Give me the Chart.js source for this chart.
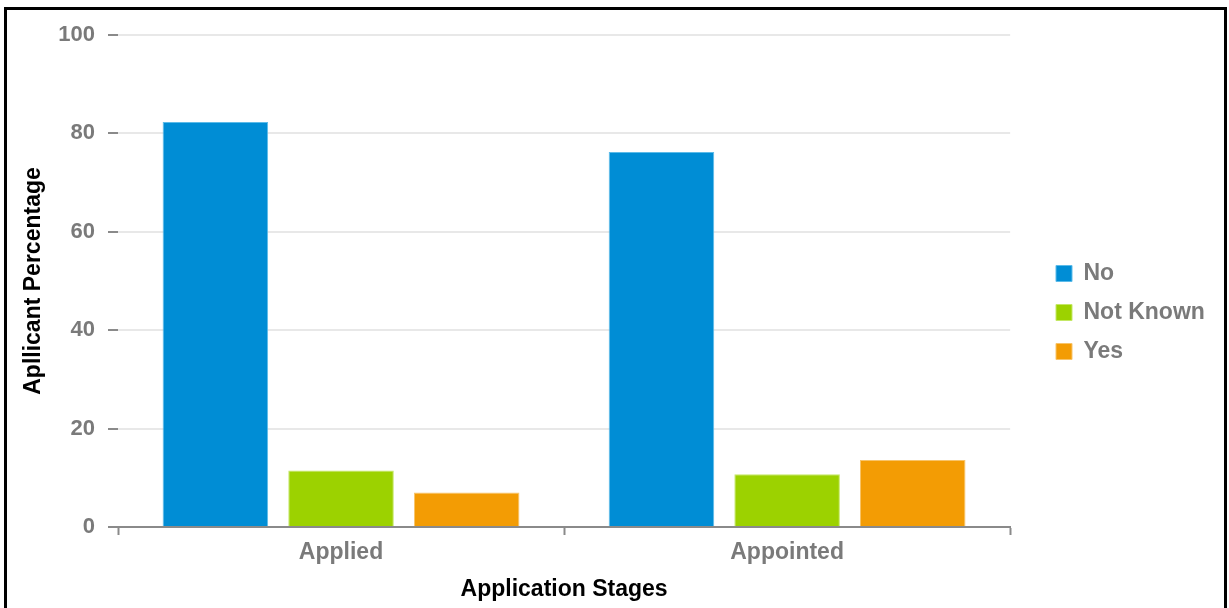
<!DOCTYPE html>
<html>
<head>
  <title>Application Stages</title>
  <style>
    body { margin: 0; background: #fff; }
    #wrap { position: relative; width: 1229px; height: 608px; overflow: hidden; }
    #frame {
      position: absolute; left: 4px; top: 7px; width: 1217px; height: 640px;
      border: 3px solid #000; pointer-events: none;
    }
  </style>
</head>
<body>
  <div id="wrap">
    <canvas id="canvas" width="1229" height="608"></canvas>
    <div id="frame"></div>
  </div>
  <script src="https://cdn.jsdelivr.net/npm/chart.js"></script>
  <script>
    const stages = ['Applied', 'Appointed'];
    const noValues = [82.3, 76.2];
    const notKnownValues = [11.5, 10.7];
    const yesValues = [7.0, 13.6];

    const FONT = 'Liberation Sans, Arial, sans-serif';
    const ctx = document.getElementById('canvas').getContext('2d');

    // nudge the legend block to where it sits in the original
    const legendShift = {
      id: 'legendShift',
      beforeDraw(chart) {
        const lg = chart.legend;
        if (!lg || lg._shifted) return;
        lg.left = 1040;
        lg.right = 1229;
        lg.width = lg.right - lg.left;
        lg.top -= 18;
        lg._shifted = true;
      }
    };

    const chart = new Chart(ctx, {
      type: 'bar',
      data: {
        labels: stages,
        datasets: [
          { label: 'No', data: noValues, backgroundColor: '#008dd5', borderColor: '#5cbbe9', borderWidth: 1 },
          { label: 'Not Known', data: notKnownValues, backgroundColor: '#9cd200', borderColor: '#c4e866', borderWidth: 1 },
          { label: 'Yes', data: yesValues, backgroundColor: '#f39c04', borderColor: '#f8c46a', borderWidth: 1 }
        ]
      },
      options: {
        responsive: false,
        animation: false,
        categoryPercentage: 0.845,
        barPercentage: 0.84,
        layout: { padding: { left: 20, top: 35, right: 44, bottom: 0 } },
        plugins: {
          tooltip: { enabled: false },
          legend: {
            position: 'right',
            labels: {
              boxWidth: 16,
              boxHeight: 16,
              padding: 16,
              color: '#7a7a7a',
              font: { family: FONT, size: 23, weight: 'bold' }
            }
          }
        },
        scales: {
          x: {
            grid: {
              offset: true,
              drawOnChartArea: false,
              drawTicks: true,
              tickLength: 8,
              tickColor: '#8a8a8a',
              tickWidth: 2
            },
            border: { display: true, color: '#8a8a8a', width: 2 },
            ticks: {
              color: '#7a7a7a',
              padding: 4,
              font: { family: FONT, size: 23, weight: 'bold' }
            },
            title: {
              display: true,
              text: 'Application Stages',
              color: '#000',
              padding: { top: 0, bottom: 5 },
              font: { family: FONT, size: 23, weight: 'bold' }
            },
            afterFit: (scale) => { scale.height = 81; }
          },
          y: {
            min: 0,
            max: 100,
            ticks: {
              stepSize: 20,
              color: '#7a7a7a',
              padding: 13,
              font: { family: FONT, size: 22, weight: 'bold' }
            },
            grid: {
              color: '#e8e8e8',
              lineWidth: 2,
              tickLength: 10,
              tickColor: '#8a8a8a',
              tickWidth: 2
            },
            border: { display: false },
            title: {
              display: true,
              text: 'Apllicant Percentage',
              color: '#000',
              padding: { top: 0, bottom: 0 },
              font: { family: FONT, size: 23, weight: 'bold' }
            },
            afterFit: (scale) => { scale.width = 98; }
          }
        }
      },
      plugins: [legendShift]
    });
  </script>
</body>
</html>
